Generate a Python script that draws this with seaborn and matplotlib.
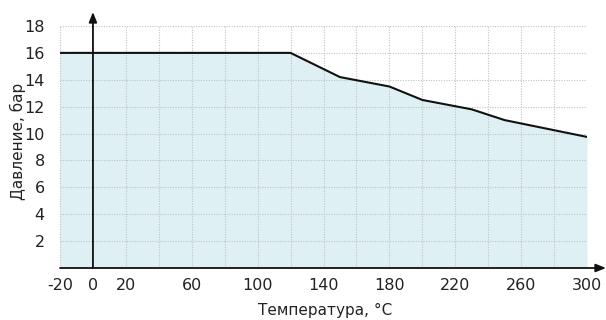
import matplotlib
matplotlib.use("Agg")
import matplotlib.pyplot as plt
import seaborn as sns
import pandas as pd
import numpy as np

temperature = [-20, 0, 120, 150, 180, 200, 230, 250, 300]
pressure = [16, 16, 16, 14.2, 13.5, 12.5, 11.8, 11.0, 9.75]
x_ticks = [-20, 0, 20, 60, 100, 140, 180, 220, 260, 300]
y_ticks = [2, 4, 6, 8, 10, 12, 14, 16, 18]
x_label = "Температура, °C"
y_label = "Давление, бар"

sns.set_theme(style="white")
plt.rcParams['font.family'] = ['DejaVu Sans']

df = pd.DataFrame({"t": temperature, "p": pressure})

fig = plt.figure(figsize=(6.06, 3.2), dpi=100)
W, H = 606, 320
ax = fig.add_axes([60 / W, (H - 268) / H, (587 - 60) / W, (268 - 26) / H])

ax.fill_between(df["t"], 0, df["p"], color="#dff0f4", zorder=1, linewidth=0)

grid_kw = dict(color="#c2c2c2", linestyle=(0, (1, 1.3)), linewidth=0.8, zorder=2)
for gx in range(-20, 301, 20):
    ax.plot([gx, gx], [0, 18], **grid_kw)
for gy in y_ticks:
    ax.plot([-20, 300], [gy, gy], **grid_kw)

sns.lineplot(data=df, x="t", y="p", ax=ax, color="#111111", linewidth=1.5, zorder=4)

ax.set_xlim(-20, 300)
ax.set_ylim(0, 18)
for s in ax.spines.values():
    s.set_visible(False)

arrow = dict(arrowstyle="-|>,head_length=0.5,head_width=0.2", color="#111111", lw=1.3,
             shrinkA=0, shrinkB=0)
ax.annotate("", xy=((606 - 60) / 527, 0), xycoords=("axes fraction", "data"),
            xytext=(0, 0), textcoords=("axes fraction", "data"),
            arrowprops=arrow, annotation_clip=False, zorder=5)
ax.annotate("", xy=(0, 1 + 14 / 242), xycoords=("data", "axes fraction"),
            xytext=(0, 0), textcoords=("data", "axes fraction"),
            arrowprops=arrow, annotation_clip=False, zorder=5)

ax.set_xticks(x_ticks)
ax.set_xticklabels([str(v) for v in x_ticks])
ax.set_yticks(y_ticks)
ax.set_yticklabels([str(v) for v in y_ticks])
ax.tick_params(axis="both", length=0, labelsize=11.5, colors="#222222")
ax.tick_params(axis="x", pad=7)
ax.tick_params(axis="y", pad=11)

ax.set_xlabel(x_label, fontsize=11, color="#222222")
ax.set_ylabel(y_label, fontsize=11, color="#222222")
ax.xaxis.set_label_coords((325 - 60) / 527, (268 - 310) / 242)
ax.xaxis.label.set_va("center")
ax.yaxis.set_label_coords((18 - 60) / 527, (268 - 141) / 242)
ax.yaxis.label.set_va("center")

fig.savefig("out.png", dpi=100)
